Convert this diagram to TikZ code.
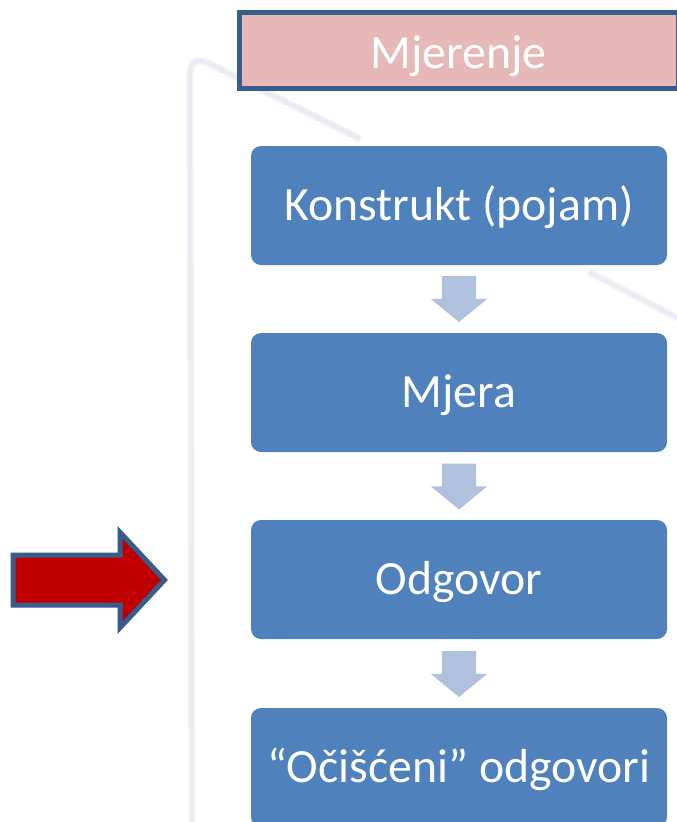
\documentclass[tikz,border=0pt]{standalone}
\usepackage{fontspec}
\setmainfont{Carlito}
\usetikzlibrary{shapes.arrows}
\definecolor{boxblue}{HTML}{4F81BD}
\definecolor{edgeblue}{HTML}{385D8A}
\definecolor{paleblue}{HTML}{B0C1DD}
\definecolor{titlepink}{HTML}{E6B8B7}
\definecolor{alarmred}{HTML}{C00000}
\definecolor{ghost}{HTML}{E6EAEF}
\tikzset{
  stepbox/.style={draw=none,fill=boxblue,rounded corners=10pt,minimum width=416pt,minimum height=119pt,
    inner sep=0pt,outer sep=0pt,text=white,font=\fontsize{47.7}{52}\selectfont,text height=34pt,text depth=5pt},
  titlebox/.style={draw=edgeblue,line width=5pt,fill=titlepink,minimum width=439pt,minimum height=76pt,
    inner sep=0pt,outer sep=0pt,text=white,font=\fontsize{47.7}{52}\selectfont,text height=40pt,text depth=5pt},
  flowarrow/.style={single arrow,shape border rotate=270,fill=paleblue,draw=none,anchor=tip,
    minimum width=56pt,minimum height=46pt,inner xsep=17pt,inner ysep=0pt,outer sep=0pt,
    single arrow head extend=11pt,single arrow tip angle=101.2},
  bigarrow/.style={single arrow,fill=alarmred,draw=edgeblue,line width=5pt,anchor=tip,miter limit=10,
    minimum width=90pt,minimum height=151.5pt,inner xsep=0pt,inner ysep=22.5pt,outer sep=0pt,
    single arrow head extend=22.5pt,single arrow tip angle=94},
  softwide/.style={draw=ghost,line width=8pt,opacity=0.35,line join=round},
  softcore/.style={draw=ghost,line width=4.5pt,opacity=0.8,line join=round}
}
\newcommand{\ghostpath}[1]{%
  \draw[#1] (192,-822) -- (190,-78) .. controls (190,-62) and (196,-58) .. (206,-62) -- (360,-139);
  \draw[#1] (589,-272) -- (680,-319);
}
\begin{document}
\begin{tikzpicture}[x=1pt,y=1pt]
\useasboundingbox (0,0) rectangle (677,-822);
\clip (0,0) rectangle (677,-822);
\fill[white] (0,0) rectangle (677,-822);
% faint background outline
\ghostpath{softwide}
\ghostpath{softcore}
\node[titlebox] (title) at (458.5,-50.5) {Mjerenje};
\node[stepbox] (construct) at (459,-205.5) {Konstrukt (pojam)};
\node[stepbox] (measure) at (459,-392.5) {Mjera};
\node[stepbox] (response) at (459,-579.5) {Odgovor};
\node[stepbox] (cleaned) at (459,-767.5) {“Očišćeni” odgovori};
\node[flowarrow] (a1) at (459,-322) {};
\node[flowarrow] (a2) at (459,-509.5) {};
\node[flowarrow] (a3) at (459,-697) {};
\node[bigarrow] (pointer) at (164.5,-580) {};
\end{tikzpicture}
\end{document}
